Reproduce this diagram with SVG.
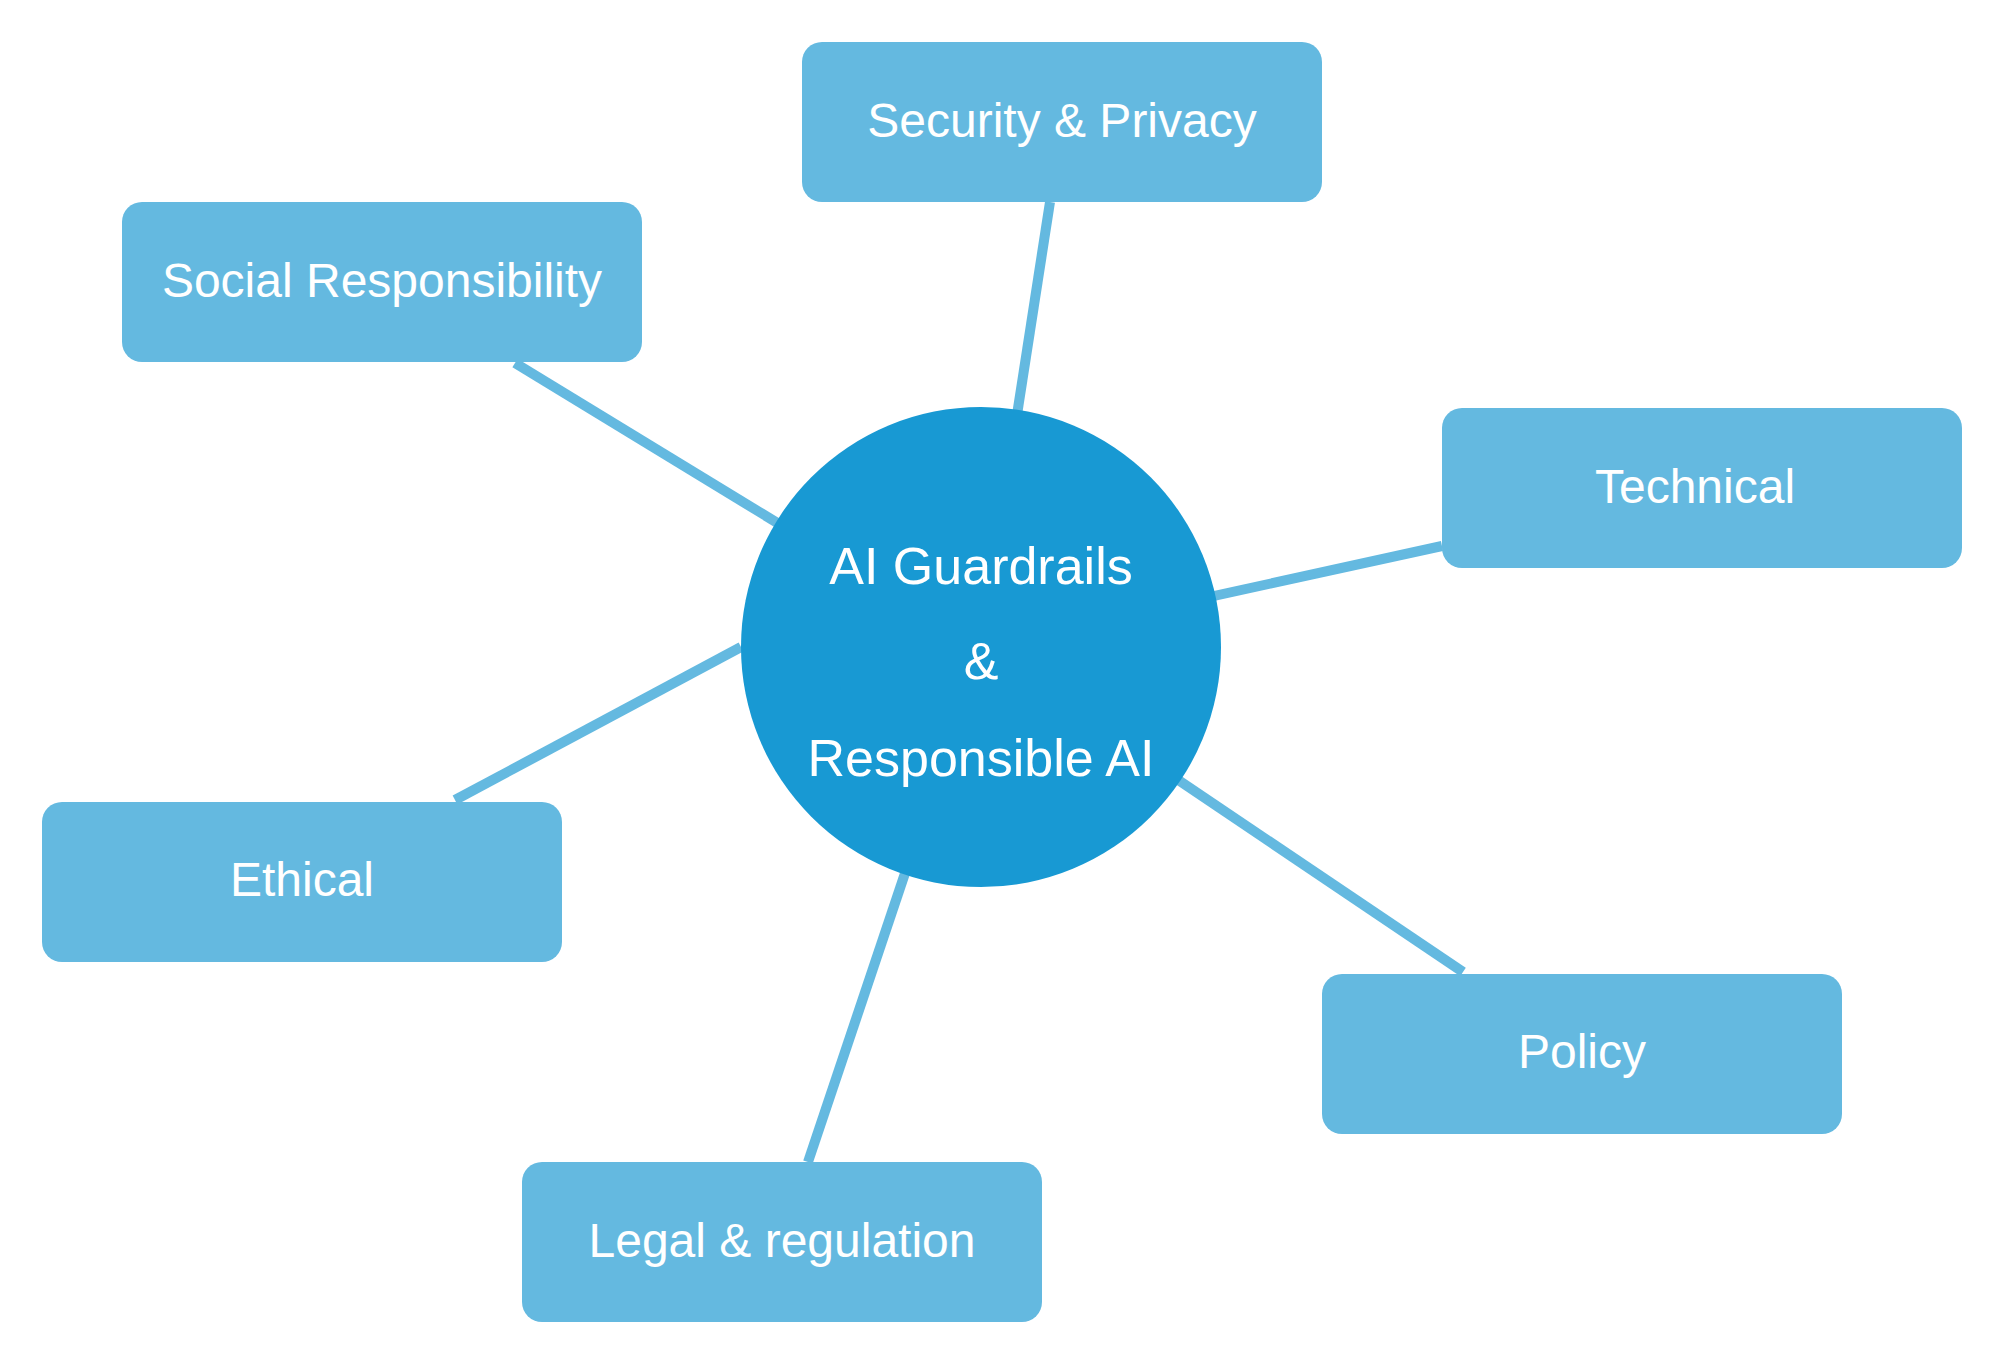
<svg xmlns="http://www.w3.org/2000/svg" width="2000" height="1360" viewBox="0 0 2000 1360">
<style>
.edge{stroke:#64b9e0;stroke-width:10;fill:none}
.box{fill:#64b9e0}
.hub{fill:#1899d3}
.lbl{font-family:"Liberation Sans",Arial,sans-serif;font-size:48px;fill:#ffffff;text-anchor:middle}
.hlbl{font-family:"Liberation Sans",Arial,sans-serif;font-size:52px;fill:#ffffff;text-anchor:middle}
</style>
<rect width="2000" height="1360" fill="#ffffff"/>
<g id="connectors">
<line class="edge" x1="1050" y1="202" x2="981" y2="647"/>
<line class="edge" x1="515" y1="363" x2="981" y2="647"/>
<line class="edge" x1="1442" y1="546" x2="981" y2="647"/>
<line class="edge" x1="455" y1="800" x2="741" y2="647"/>
<line class="edge" x1="1463" y1="972" x2="981" y2="647"/>
<line class="edge" x1="808" y1="1162" x2="981" y2="647"/>
</g>
<g id="hub">
<circle class="hub" cx="981" cy="647" r="240"/>
<text class="hlbl" x="981" y="584">AI Guardrails</text>
<text class="hlbl" x="981" y="679">&amp;</text>
<text class="hlbl" x="981" y="776">Responsible AI</text>
</g>
<g id="security">
<rect class="box" x="802" y="42" width="520" height="160" rx="20"/>
<text class="lbl" x="1062" y="137">Security &amp; Privacy</text>
</g>
<g id="social">
<rect class="box" x="122" y="202" width="520" height="160" rx="20"/>
<text class="lbl" x="382" y="297">Social Responsibility</text>
</g>
<g id="technical">
<rect class="box" x="1442" y="408" width="520" height="160" rx="20"/>
<text class="lbl" x="1695" y="503">Technical</text>
</g>
<g id="ethical">
<rect class="box" x="42" y="802" width="520" height="160" rx="20"/>
<text class="lbl" x="302" y="896">Ethical</text>
</g>
<g id="policy">
<rect class="box" x="1322" y="974" width="520" height="160" rx="20"/>
<text class="lbl" x="1582" y="1068">Policy</text>
</g>
<g id="legal">
<rect class="box" x="522" y="1162" width="520" height="160" rx="20"/>
<text class="lbl" x="782" y="1257">Legal &amp; regulation</text>
</g>
</svg>
